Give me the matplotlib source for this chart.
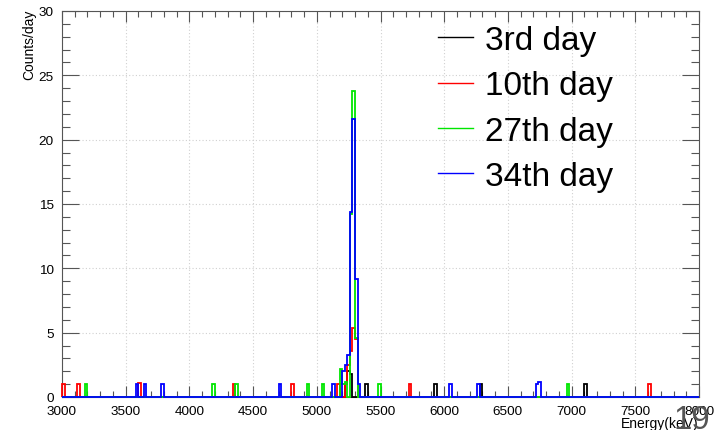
import numpy as np
import matplotlib
matplotlib.use('Agg')
import matplotlib.pyplot as plt
from matplotlib.ticker import MultipleLocator

plt.rcParams['font.family'] = ['Liberation Sans', 'DejaVu Sans']

# binning: 20 keV bins from 3000 to 8000 keV
e_min, e_max, bin_width = 3000, 8000, 20

# (bin start in keV, counts/day) for each measurement day
day3_bins = [5220, 5240, 5260, 5380, 5920, 6280, 7100]
day3_vals = [1.0, 2.0, 1.8, 1.0, 1.0, 1.0, 1.0]

day10_bins = [3000, 3120, 3600, 4340, 4800, 5160, 5220, 5240, 5260, 5280, 5300, 5720, 7600]
day10_vals = [1.0, 1.0, 1.1, 1.0, 1.0, 1.0, 1.0, 2.5, 3.6, 5.4, 4.5, 1.0, 1.0]

day27_bins = [3180, 4180, 4360, 4920, 5040, 5180, 5200, 5220, 5260, 5280, 5300, 5480, 6960]
day27_vals = [1.0, 1.0, 1.0, 1.0, 1.0, 2.2, 1.0, 1.2, 14.2, 23.8, 4.6, 1.0, 1.0]

day34_bins = [3580, 3640, 3780, 4700, 5120, 5200, 5220, 5240, 5260, 5280, 5300, 5320,
              6040, 6260, 6720, 6740]
day34_vals = [1.0, 1.0, 1.0, 1.0, 1.0, 2.0, 2.5, 3.3, 14.4, 21.6, 9.2, 1.0,
              1.0, 1.0, 1.0, 1.2]

labels = ['3rd day', '10th day', '27th day', '34th day']
colors = ['#000000', '#ff0000', '#00e600', '#0000ff']

edges = np.arange(e_min, e_max + bin_width, bin_width)


def fill_hist(bins, vals):
    h = np.zeros(len(edges) - 1)
    for b, v in zip(bins, vals):
        h[(b - e_min) // bin_width] = v
    return h


series = [(day3_bins, day3_vals), (day10_bins, day10_vals),
          (day27_bins, day27_vals), (day34_bins, day34_vals)]

fig = plt.figure(figsize=(7.21, 4.31), dpi=100)
ax = fig.add_axes([62 / 721, 33 / 431, 637 / 721, 386 / 431])

for (b, v), lab, col in zip(series, labels, colors):
    ax.stairs(fill_hist(b, v), edges, color=col, lw=1.3, label=lab, clip_on=False, zorder=3)

ax.set_xlim(e_min, e_max)
ax.set_ylim(0, 30)

# ROOT-like axes: inward ticks on every side, dotted grid at major ticks
ax.xaxis.set_major_locator(MultipleLocator(500))
ax.xaxis.set_minor_locator(MultipleLocator(100))
ax.yaxis.set_major_locator(MultipleLocator(5))
ax.yaxis.set_minor_locator(MultipleLocator(1))
ax.tick_params(axis='both', which='both', direction='in', top=True, right=True,
               color='#555555', width=0.8, labelsize=9.7)
ax.tick_params(axis='x', which='major', length=8, pad=6)
ax.tick_params(axis='x', which='minor', length=4)
ax.tick_params(axis='y', which='major', length=12, pad=6)
ax.tick_params(axis='y', which='minor', length=6)
ax.grid(True, which='major', color='#d0d0d0', linestyle=(0, (1, 2)), lw=0.8)
for s in ax.spines.values():
    s.set_color('#555555')
    s.set_linewidth(0.8)

fig.text(29 / 721, 1 - 10 / 431, 'Counts/day', rotation=90, ha='center', va='top', fontsize=10)
fig.text(699 / 721, 1 - 424 / 431, 'Energy(keV)', ha='right', va='center', fontsize=10)

leg = ax.legend(loc='upper left', bbox_to_anchor=(376 / 637, 1 - 14 / 386), frameon=False,
                fontsize=24, handlelength=1.05, handletextpad=0.35, labelspacing=0.43,
                borderpad=0, borderaxespad=0)
for line in leg.get_lines():
    line.set_linewidth(1.0)

fig.text(673 / 721, 1 - 429 / 431, '19', ha='left', va='baseline', fontsize=23.8,
         color='#555555', family=['Liberation Sans Narrow', 'Liberation Sans'])

fig.savefig('out.png', dpi=100)
